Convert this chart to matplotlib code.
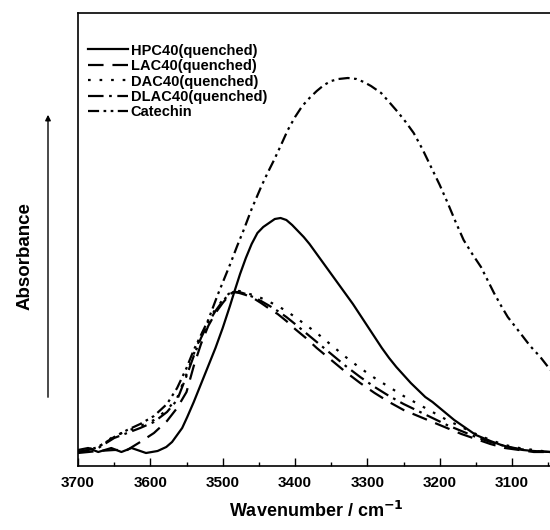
import numpy as np
import matplotlib
matplotlib.use("Agg")
import matplotlib.pyplot as plt
from matplotlib.ticker import MultipleLocator

plt.rcParams['font.family'] = ['Liberation Sans', 'DejaVu Sans']
plt.rcParams['font.weight'] = 'bold'

# HPC40 (solid)
hpc_wn = [3700, 3686, 3672, 3654, 3640, 3626, 3606, 3590, 3578, 3570, 3562, 3556,
          3549, 3540, 3530, 3520, 3510, 3500, 3490, 3484, 3476, 3468, 3460, 3452,
          3444, 3436, 3428, 3420, 3412, 3404, 3396, 3388, 3380, 3370, 3360, 3350,
          3340, 3330, 3320, 3310, 3300, 3290, 3280, 3270, 3260, 3250, 3240, 3230,
          3220, 3210, 3200, 3190, 3180, 3170, 3160, 3150, 3140, 3130, 3115, 3100,
          3085, 3070, 3047]
hpc_abs = [16, 18, 14, 18, 14, 18, 13, 15, 19, 24, 32, 38,
           49, 64, 82, 100, 118, 138, 160, 174, 192, 208, 222, 233,
           239, 243, 247, 248, 246, 241, 235, 229, 222, 212, 202, 192,
           182, 172, 162, 151, 140, 129, 118, 108, 99, 91, 83, 76,
           69, 64, 58, 52, 46, 41, 36, 31, 28, 25, 21, 18,
           16, 15, 14]

# LAC40 / DAC40 / DLAC40 share one wavenumber grid
grp_wn = [3700, 3686, 3672, 3650, 3632, 3614, 3595, 3577, 3563, 3550, 3540, 3530,
          3520, 3510, 3500, 3492, 3485, 3477, 3468, 3458, 3447, 3435, 3424, 3412,
          3400, 3385, 3370, 3350, 3330, 3310, 3290, 3270, 3250, 3230, 3210, 3190,
          3170, 3150, 3130, 3110, 3090, 3070, 3047]
lac_abs = [13, 14, 15, 16, 16, 24, 33, 45, 58, 74, 100, 122,
           140, 153, 163, 170, 174, 173, 171, 168, 163, 157, 152, 145,
           137, 128, 118, 106, 94, 83, 73, 64, 56, 50, 44, 38,
           32, 27, 22, 18, 16, 14, 14]
dac_abs = [14, 17, 19, 30, 35, 40, 46, 56, 68, 92, 112, 130,
           145, 157, 166, 172, 175, 175, 173, 171, 168, 164, 160, 155,
           149, 141, 133, 121, 109, 98, 88, 79, 70, 62, 54, 46,
           39, 32, 26, 21, 18, 16, 14]
dlac_abs = [14, 16, 18, 28, 33, 38, 44, 54, 66, 90, 110, 128,
            143, 155, 165, 171, 174, 174, 172, 169, 165, 160, 155, 149,
            142, 133, 124, 112, 100, 89, 79, 70, 62, 55, 48, 41,
            35, 29, 24, 20, 17, 15, 14]

# Catechin
cat_wn = [3700, 3686, 3672, 3650, 3632, 3614, 3595, 3577, 3563, 3550, 3540, 3530,
          3520, 3507, 3498, 3489, 3480, 3471, 3460, 3447, 3438, 3429, 3420, 3410,
          3400, 3390, 3380, 3370, 3360, 3350, 3340, 3327, 3315, 3305, 3295, 3281,
          3270, 3258, 3247, 3236, 3224, 3212, 3200, 3189, 3178, 3167, 3155, 3143,
          3134, 3125, 3115, 3106, 3092, 3075, 3061, 3047]
cat_abs = [14, 16, 19, 29, 36, 42, 50, 62, 78, 98, 116, 131,
           146, 171, 187, 203, 220, 236, 257, 279, 293, 306, 320, 336,
           349, 360, 368, 375, 381, 385, 387, 388, 387, 384, 380, 373,
           364, 354, 344, 333, 317, 299, 281, 263, 244, 226, 212, 199,
           186, 173, 160, 149, 136, 120, 109, 96]

labels = ['HPC40(quenched)', 'LAC40(quenched)', 'DAC40(quenched)',
          'DLAC40(quenched)', 'Catechin']

fig = plt.figure(figsize=(5.5, 5.3), dpi=100)
ax = fig.add_axes([78 / 550, 64 / 530, 1 - 78 / 550 + 0.01, (466 - 13) / 530])

lw = 1.6
ax.plot(hpc_wn, hpc_abs, color='black', lw=lw, ls='-', label=labels[0])
ax.plot(grp_wn, lac_abs, color='black', lw=lw, ls=(0, (7, 4)), label=labels[1])
ax.plot(grp_wn, dac_abs, color='black', lw=lw, ls=(0, (1.2, 4)), label=labels[2])
ax.plot(grp_wn, dlac_abs, color='black', lw=lw, ls=(0, (7, 2.5, 1.2, 2.5)), label=labels[3])
ax.plot(cat_wn, cat_abs, color='black', lw=lw, ls=(0, (5, 2, 1.2, 2, 1.2, 2)), label=labels[4])

ax.set_xlim(3700, 3040)
ax.set_ylim(0, 453)
ax.xaxis.set_major_locator(MultipleLocator(100))
ax.xaxis.set_minor_locator(MultipleLocator(50))
ax.tick_params(axis='x', which='major', direction='in', length=6, width=1,
               labelsize=11, pad=7, top=False)
ax.tick_params(axis='x', which='minor', direction='in', length=3, width=1, top=False)
ax.set_yticks([])
ax.spines['right'].set_visible(False)
for s in ['left', 'bottom', 'top']:
    ax.spines[s].set_linewidth(1.2)

ax.set_xlabel('Wavenumber / cm$^{\\mathbf{-1}}$', fontsize=13, fontweight='bold', labelpad=8)

leg = ax.legend(loc='upper left', frameon=False, fontsize=10.5, handlelength=2.7,
                handletextpad=0.2, labelspacing=0.1, borderaxespad=0.3,
                bbox_to_anchor=(0.0, 0.955))

fig.text(25 / 550, 1 - 256 / 530, 'Absorbance', rotation=90, ha='center', va='center',
         fontsize=13.5, fontweight='bold')
ax.annotate('', xy=(48 / 550, 1 - 112 / 530), xytext=(48 / 550, 1 - 400 / 530),
            xycoords='figure fraction', textcoords='figure fraction',
            arrowprops=dict(arrowstyle='-|>', color='black', lw=1.0, mutation_scale=8))

fig.savefig('out.png', dpi=100)
